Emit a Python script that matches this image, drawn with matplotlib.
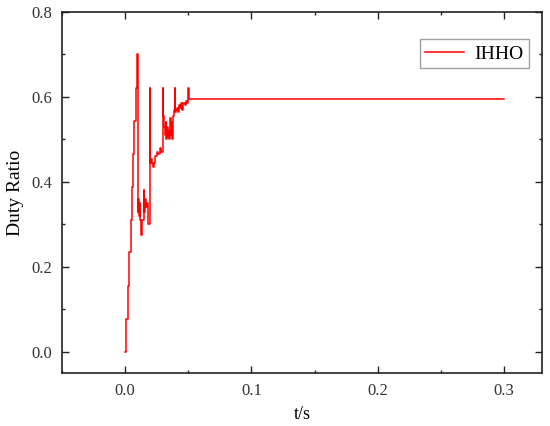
import matplotlib
matplotlib.use("Agg")
import matplotlib.pyplot as plt
from matplotlib.ticker import MultipleLocator, FormatStrFormatter

# Data
t = [0.0000, 0.0008, 0.0024, 0.0034, 0.0045, 0.0058, 0.0066, 0.0074, 0.0082, 0.0090,
     0.0100, 0.0104, 0.0110, 0.0116, 0.0120, 0.0128, 0.0136, 0.0146, 0.0152, 0.0160,
     0.0168, 0.0176, 0.0184, 0.0198, 0.0200, 0.0208, 0.0216, 0.0224, 0.0232, 0.0240,
     0.0250, 0.0262, 0.0272, 0.0280, 0.0290, 0.0296, 0.0298, 0.0304, 0.0310, 0.0316,
     0.0320, 0.0326, 0.0330, 0.0336, 0.0342, 0.0348, 0.0354, 0.0360, 0.0366, 0.0372,
     0.0380, 0.0390, 0.0395, 0.0398, 0.0406, 0.0414, 0.0420, 0.0428, 0.0436, 0.0444,
     0.0452, 0.0460, 0.0470, 0.0480, 0.0490, 0.0500, 0.0503, 0.3000]
duty = [0.000, 0.077, 0.155, 0.234, 0.310, 0.387, 0.465, 0.544, 0.622, 0.700,
        0.330, 0.360, 0.320, 0.350, 0.310, 0.275, 0.310, 0.380, 0.330, 0.360,
        0.340, 0.350, 0.300, 0.622, 0.445, 0.455, 0.445, 0.435, 0.445, 0.460,
        0.470, 0.465, 0.480, 0.470, 0.470, 0.622, 0.555, 0.540, 0.530, 0.510,
        0.540, 0.500, 0.530, 0.505, 0.520, 0.500, 0.550, 0.510, 0.540, 0.500,
        0.555, 0.570, 0.622, 0.565, 0.570, 0.575, 0.565, 0.580, 0.575, 0.585,
        0.570, 0.585, 0.580, 0.590, 0.585, 0.622, 0.595, 0.595]
series_label = "IHHO"
x_label = "t/s"
y_label = "Duty Ratio"

serif = ["Liberation Serif", "DejaVu Serif"]
plt.rcParams["font.family"] = serif

fig = plt.figure(figsize=(5.5, 4.26), dpi=100)
ax = fig.add_axes([0.1127, 0.1244, 0.8728, 0.8474])

ax.step(t, duty, where="post", color="#ff0000", linewidth=1.1, label=series_label)

ax.set_xlim(-0.05, 0.33)
ax.set_ylim(-0.05, 0.8)
ax.xaxis.set_major_locator(MultipleLocator(0.1))
ax.xaxis.set_minor_locator(MultipleLocator(0.05))
ax.yaxis.set_major_locator(MultipleLocator(0.2))
ax.yaxis.set_minor_locator(MultipleLocator(0.1))
ax.xaxis.set_major_formatter(FormatStrFormatter("%.1f"))
ax.yaxis.set_major_formatter(FormatStrFormatter("%.1f"))

ax.tick_params(which="both", direction="in", top=True, right=True, width=1.0,
               colors="#222222", labelcolor="#333333")
ax.tick_params(which="major", length=5, labelsize=12, pad=7)
ax.tick_params(which="minor", length=2.5)
for s in ax.spines.values():
    s.set_linewidth(1.2)
    s.set_color("#222222")

ax.set_xlabel(x_label, fontsize=13, labelpad=5)
ax.set_ylabel(y_label, fontsize=14, labelpad=5)

leg = ax.legend(loc="upper right", bbox_to_anchor=(0.973, 0.925), fontsize=14,
                frameon=True, fancybox=False, borderpad=0.3, handlelength=2.0,
                handletextpad=0.5, borderaxespad=0.0)
leg.get_frame().set_edgecolor("#888888")
leg.get_frame().set_linewidth(1.0)

fig.savefig("out.png", dpi=100)
